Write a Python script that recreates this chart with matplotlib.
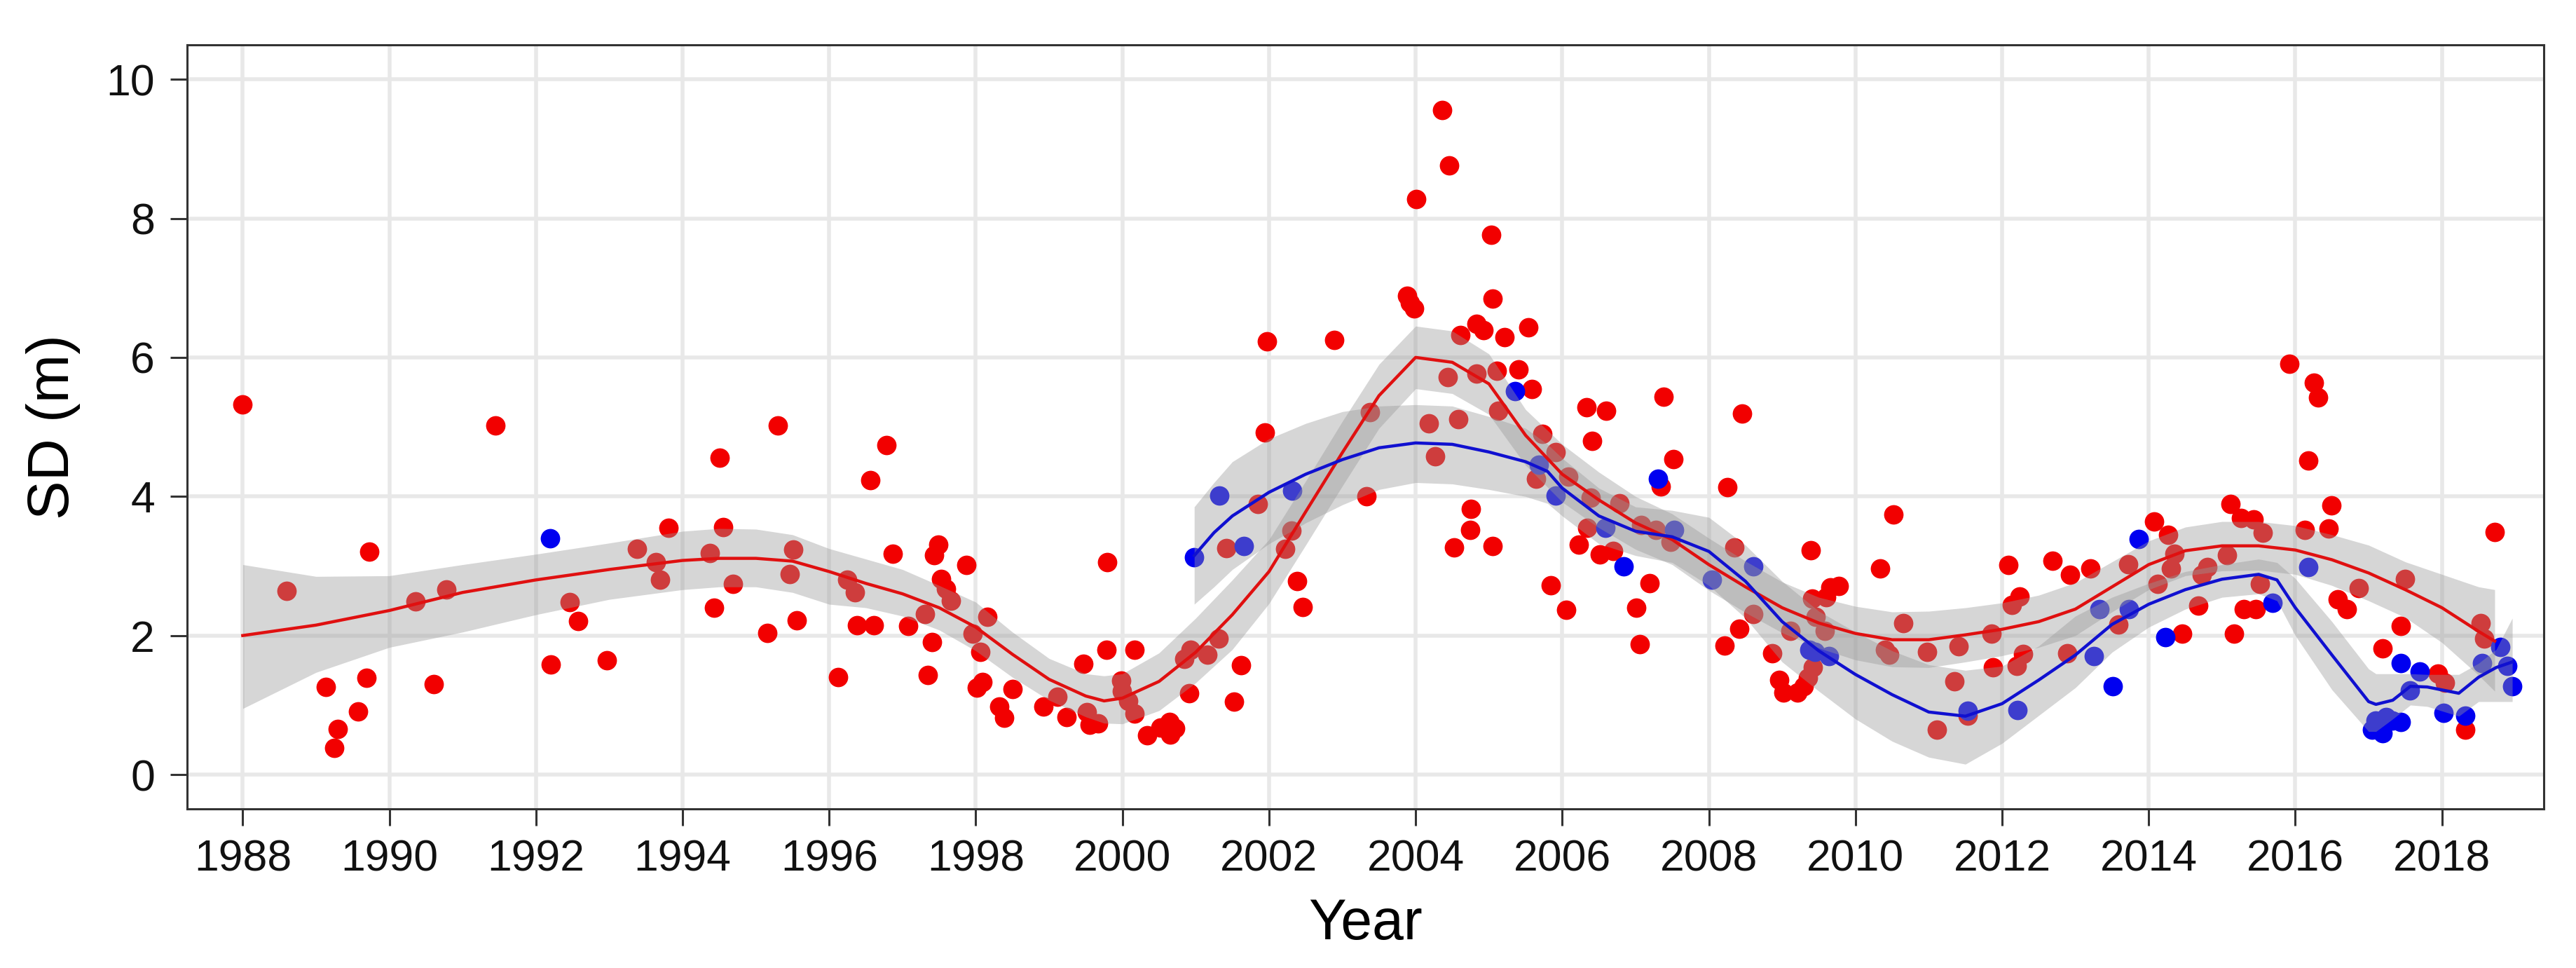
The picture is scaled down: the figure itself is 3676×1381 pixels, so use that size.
import matplotlib
matplotlib.use("Agg")
import matplotlib.pyplot as plt
import numpy as np

plt.rcParams['font.family'] = ['Liberation Sans', 'DejaVu Sans']

# points (year, SD in m)
red_year = [1988.00, 1988.60, 1989.13, 1989.25, 1989.30, 1989.57, 1989.69, 1989.73, 1990.36, 1990.61,
            1990.78, 1991.45, 1992.20, 1992.46, 1992.58, 1992.97, 1993.38, 1993.64, 1993.69, 1993.81,
            1994.37, 1994.43, 1994.51, 1994.55, 1994.69, 1995.16, 1995.30, 1995.46, 1995.51, 1995.56,
            1996.12, 1996.25, 1996.35, 1996.38, 1996.56, 1996.61, 1996.78, 1996.87, 1997.08, 1997.31,
            1997.35, 1997.40, 1997.43, 1997.49, 1997.53, 1997.59, 1997.66, 1997.87, 1997.96, 1998.01,
            1998.06, 1998.09, 1998.16, 1998.32, 1998.39, 1998.50, 1998.92, 1999.11, 1999.24, 1999.47,
            1999.52, 1999.55, 1999.67, 1999.78, 1999.79, 1999.98, 1999.99, 2000.08, 2000.17, 2000.17,
            2000.34, 2000.52, 2000.64, 2000.65, 2000.72, 2000.84, 2000.91, 2000.93, 2001.16, 2001.31,
            2001.42, 2001.52, 2001.62, 2001.85, 2001.94, 2001.97, 2002.22, 2002.31, 2002.38, 2002.46,
            2002.89, 2003.33, 2003.38, 2003.88, 2003.92, 2003.98, 2004.01, 2004.18, 2004.27, 2004.36,
            2004.44, 2004.46, 2004.52, 2004.58, 2004.61, 2004.74, 2004.75, 2004.83, 2004.83, 2004.93,
            2005.03, 2005.05, 2005.05, 2005.11, 2005.13, 2005.21, 2005.40, 2005.54, 2005.59, 2005.64,
            2005.73, 2005.84, 2005.91, 2006.05, 2006.08, 2006.23, 2006.33, 2006.34, 2006.39, 2006.41,
            2006.51, 2006.60, 2006.69, 2006.78, 2007.01, 2007.06, 2007.08, 2007.19, 2007.28, 2007.34,
            2007.38, 2007.48, 2007.52, 2008.21, 2008.25, 2008.35, 2008.42, 2008.45, 2008.61, 2008.86,
            2008.96, 2009.02, 2009.11, 2009.21, 2009.29, 2009.35, 2009.39, 2009.42, 2009.41, 2009.46,
            2009.58, 2009.60, 2009.66, 2009.77, 2010.34, 2010.40, 2010.46, 2010.52, 2010.65, 2010.98,
            2011.11, 2011.35, 2011.41, 2011.53, 2011.86, 2011.88, 2012.09, 2012.13, 2012.20, 2012.24,
            2012.29, 2012.69, 2012.89, 2012.93, 2013.20, 2013.59, 2013.72, 2014.07, 2014.12, 2014.27,
            2014.30, 2014.35, 2014.46, 2014.68, 2014.72, 2014.80, 2015.07, 2015.12, 2015.16, 2015.26,
            2015.30, 2015.43, 2015.46, 2015.52, 2015.56, 2015.92, 2016.13, 2016.18, 2016.25, 2016.31,
            2016.45, 2016.49, 2016.58, 2016.70, 2016.87, 2017.19, 2017.44, 2017.50, 2017.95, 2018.04,
            2018.32, 2018.53, 2018.58, 2018.72]
red_sd = [5.32, 2.64, 1.26, 0.38, 0.66, 0.91, 1.39, 3.21, 2.49, 1.30,
          2.66, 5.02, 1.58, 2.48, 2.21, 1.64, 3.25, 3.06, 2.80, 3.55,
          3.19, 2.40, 4.56, 3.56, 2.74, 2.04, 5.02, 2.88, 3.24, 2.22,
          1.40, 2.80, 2.62, 2.15, 4.23, 2.15, 4.74, 3.18, 2.14, 2.31,
          1.43, 1.91, 3.16, 3.31, 2.81, 2.67, 2.50, 3.02, 2.03, 1.25,
          1.77, 1.33, 2.27, 0.98, 0.82, 1.23, 0.98, 1.12, 0.83, 1.59,
          0.90, 0.72, 0.74, 1.80, 3.06, 1.35, 1.20, 1.06, 1.80, 0.88,
          0.57, 0.68, 0.76, 0.58, 0.67, 1.66, 1.17, 1.80, 1.72, 1.96,
          3.26, 1.05, 1.57, 3.89, 4.92, 6.23, 3.25, 3.51, 2.78, 2.41,
          6.25, 4.00, 5.21, 6.89, 6.79, 6.70, 8.28, 5.05, 4.58, 9.56,
          5.72, 8.76, 3.27, 5.11, 6.32, 3.52, 3.82, 6.48, 5.77, 6.39,
          7.76, 3.29, 6.85, 5.81, 5.23, 6.29, 5.83, 6.43, 5.55, 4.25,
          4.90, 2.72, 4.64, 2.37, 4.29, 3.31, 5.28, 3.55, 3.98, 4.80,
          3.17, 5.23, 3.22, 3.90, 2.40, 1.88, 3.59, 2.75, 3.52, 4.14,
          5.43, 3.35, 4.54, 1.86, 4.13, 3.27, 2.10, 5.19, 2.31, 1.74,
          1.36, 1.18, 2.07, 1.18, 1.27, 1.39, 3.23, 1.54, 2.53, 2.27,
          2.07, 2.55, 2.69, 2.71, 2.96, 1.80, 1.72, 3.74, 2.18, 1.76,
          0.65, 1.34, 1.85, 0.85, 2.03, 1.54, 3.02, 2.44, 1.56, 2.56,
          1.73, 3.08, 1.74, 2.87, 2.96, 2.16, 3.03, 3.64, 2.74, 3.45,
          2.96, 3.18, 2.03, 2.43, 2.87, 2.98, 3.16, 3.89, 2.03, 3.69,
          2.38, 3.67, 2.38, 2.74, 3.48, 5.91, 3.52, 4.52, 5.64, 5.42,
          3.54, 3.87, 2.52, 2.38, 2.68, 1.82, 2.14, 2.81, 1.45, 1.32,
          0.65, 2.18, 1.96, 3.49]

blue_year = [1992.19, 2000.98, 2001.32, 2001.66, 2002.32, 2005.36, 2005.68, 2005.91, 2006.59, 2006.84,
             2007.31, 2007.53, 2008.04, 2008.61, 2009.37, 2009.45, 2009.64, 2011.53, 2012.21, 2013.25,
             2013.33, 2013.51, 2013.73, 2013.86, 2014.23, 2015.69, 2016.18, 2017.05, 2017.10, 2017.19,
             2017.24, 2017.32, 2017.44, 2017.44, 2017.56, 2017.70, 2018.02, 2018.32, 2018.55, 2018.80,
             2018.89, 2018.96]
blue_sd = [3.40, 3.13, 4.01, 3.29, 4.08, 5.52, 4.46, 4.01, 3.55, 2.99,
           4.25, 3.52, 2.80, 2.99, 1.80, 1.76, 1.70, 0.92, 0.93, 1.70,
           2.38, 1.27, 2.38, 3.39, 1.98, 2.47, 2.98, 0.65, 0.78, 0.60,
           0.83, 0.78, 0.76, 1.60, 1.21, 1.48, 0.89, 0.85, 1.60, 1.84,
           1.56, 1.27]

# smoothed fits and confidence bands
red_fit_x = [1988, 1989, 1990, 1991, 1992, 1993, 1994, 1994.5, 1995, 1995.5,
             1996, 1996.5, 1997, 1997.5, 1998, 1998.5, 1999, 1999.5, 1999.75, 2000,
             2000.5, 2001, 2001.5, 2002, 2002.5, 2003, 2003.5, 2004, 2004.5, 2005,
             2005.5, 2006, 2006.5, 2007, 2007.5, 2008, 2008.5, 2009, 2009.5, 2010,
             2010.5, 2011, 2011.5, 2012, 2012.5, 2013, 2013.5, 2014, 2014.5, 2015,
             2015.5, 2016, 2016.5, 2017, 2017.5, 2018, 2018.5, 2018.72]
red_fit = [2.00, 2.15, 2.36, 2.62, 2.80, 2.95, 3.08, 3.11, 3.11, 3.07,
           2.92, 2.75, 2.60, 2.40, 2.12, 1.73, 1.37, 1.13, 1.06, 1.10,
           1.34, 1.76, 2.30, 2.92, 3.78, 4.63, 5.45, 6.00, 5.93, 5.62,
           4.88, 4.32, 3.95, 3.62, 3.38, 3.02, 2.70, 2.40, 2.18, 2.03,
           1.94, 1.94, 2.01, 2.09, 2.20, 2.38, 2.70, 3.02, 3.22, 3.29,
           3.29, 3.23, 3.09, 2.90, 2.66, 2.40, 2.06, 1.92]
red_hi = [3.02, 2.85, 2.86, 3.02, 3.17, 3.33, 3.50, 3.54, 3.53, 3.45,
          3.25, 3.10, 2.95, 2.72, 2.48, 2.05, 1.67, 1.45, 1.42, 1.45,
          1.75, 2.25, 2.80, 3.38, 4.22, 5.08, 5.90, 6.45, 6.38, 6.05,
          5.25, 4.75, 4.35, 4.00, 3.75, 3.40, 3.07, 2.77, 2.55, 2.42,
          2.34, 2.35, 2.40, 2.47, 2.58, 2.76, 3.06, 3.36, 3.56, 3.64,
          3.64, 3.58, 3.45, 3.30, 3.06, 2.88, 2.70, 2.66]
red_lo = [0.95, 1.47, 1.83, 2.05, 2.30, 2.52, 2.66, 2.70, 2.70, 2.62,
          2.45, 2.40, 2.28, 2.08, 1.78, 1.40, 1.07, 0.83, 0.74, 0.73,
          0.92, 1.32, 1.80, 2.46, 3.30, 4.15, 4.98, 5.55, 5.48, 5.18,
          4.45, 3.92, 3.55, 3.24, 3.02, 2.65, 2.33, 2.04, 1.82, 1.65,
          1.55, 1.54, 1.62, 1.71, 1.83, 2.00, 2.34, 2.66, 2.86, 2.93,
          2.94, 2.88, 2.72, 2.50, 2.26, 1.90, 1.43, 1.20]

blue_fit_x = [2000.98, 2001.25, 2001.5, 2002, 2002.5, 2003, 2003.5, 2004, 2004.5, 2005,
              2005.5, 2005.8, 2006, 2006.5, 2007, 2007.5, 2008, 2008.5, 2009, 2009.5,
              2010, 2010.5, 2011, 2011.5, 2012, 2012.5, 2013, 2013.5, 2014, 2014.5,
              2015, 2015.5, 2015.75, 2016, 2016.5, 2017, 2017.1, 2017.33, 2017.57, 2017.8,
              2018.23, 2018.5, 2018.74, 2018.96]
blue_fit = [3.15, 3.48, 3.72, 4.06, 4.32, 4.53, 4.70, 4.77, 4.75, 4.64,
            4.50, 4.36, 4.12, 3.72, 3.50, 3.42, 3.21, 2.78, 2.20, 1.78,
            1.44, 1.15, 0.90, 0.84, 1.02, 1.36, 1.72, 2.16, 2.45, 2.66,
            2.81, 2.88, 2.80, 2.40, 1.72, 1.05, 1.01, 1.07, 1.27, 1.26,
            1.17, 1.40, 1.54, 1.62]
blue_hi = [3.85, 4.20, 4.50, 4.83, 5.05, 5.22, 5.30, 5.32, 5.30, 5.15,
           4.98, 4.75, 4.55, 4.12, 3.85, 3.80, 3.70, 3.30, 2.78, 2.35,
           2.05, 1.78, 1.58, 1.50, 1.56, 1.85, 2.28, 2.55, 2.75, 2.92,
           3.02, 3.10, 3.05, 2.82, 2.20, 1.52, 1.45, 1.45, 1.45, 1.44,
           1.44, 1.60, 1.80, 2.25]
blue_lo = [2.45, 2.70, 2.95, 3.32, 3.62, 3.88, 4.10, 4.20, 4.18, 4.10,
           4.00, 3.90, 3.72, 3.32, 3.15, 3.05, 2.72, 2.25, 1.62, 1.20,
           0.80, 0.48, 0.25, 0.15, 0.45, 0.85, 1.25, 1.76, 2.12, 2.38,
           2.55, 2.60, 2.50, 2.00, 1.22, 0.62, 0.62, 0.80, 1.00, 0.98,
           0.84, 1.05, 1.05, 1.05]

x_ticks = list(range(1988, 2019, 2))
y_ticks = [0, 2, 4, 6, 8, 10]

fig = plt.figure(figsize=(36.76, 13.81), dpi=100)
ax = fig.add_axes([0.0726, 0.1646, 0.9149, 0.7894])

ax.scatter(red_year, red_sd, s=400, color='#F20000', linewidths=0, zorder=2)
ax.scatter(blue_year, blue_sd, s=400, color='#0000F0', linewidths=0, zorder=2)

ax.fill_between(red_fit_x, red_lo, red_hi, color='#999999', alpha=0.4, lw=0, zorder=3)
ax.fill_between(blue_fit_x, blue_lo, blue_hi, color='#999999', alpha=0.4, lw=0, zorder=3)
ax.plot(red_fit_x, red_fit, color='#E01010', lw=3.2, zorder=4)
ax.plot(blue_fit_x, blue_fit, color='#1010D0', lw=3.2, zorder=4)

ax.set_xlim(1987.24, 2019.39)
ax.set_ylim(-0.49, 10.5)
ax.set_xticks(x_ticks)
ax.set_yticks(y_ticks)
ax.grid(True, color='#E8E8E8', lw=4)
ax.set_axisbelow(True)
for sp in ax.spines.values():
    sp.set_color('#333333')
    sp.set_linewidth(2.2)
ax.tick_params(axis='both', length=17, width=2.2, color='#333333',
               labelsize=45, labelcolor='#111111')
ax.tick_params(axis='x', pad=14)
ax.tick_params(axis='y', pad=16)

ax.set_xlabel("Year", fontsize=58, labelpad=18)
ax.set_ylabel("SD (m)", fontsize=60, labelpad=26)

fig.savefig("out.png", dpi=100)
